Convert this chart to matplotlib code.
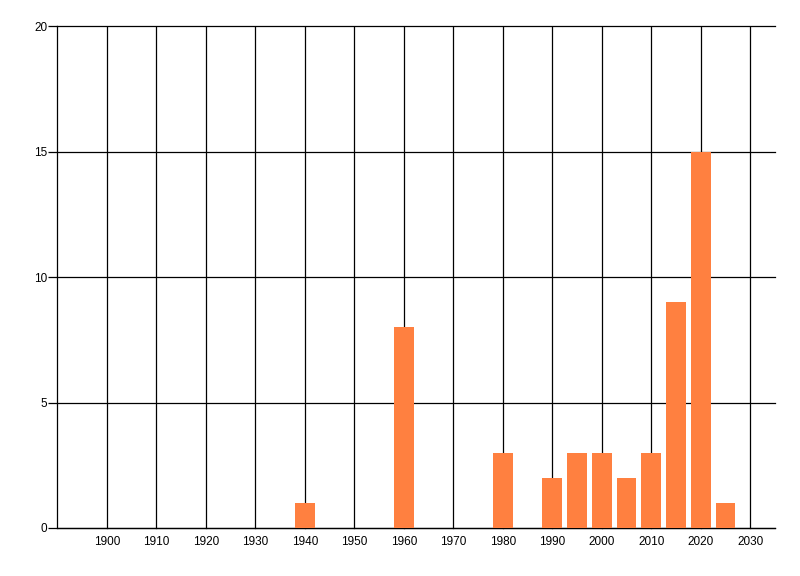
import matplotlib
matplotlib.use("Agg")
import matplotlib.pyplot as plt

years = [1940, 1960, 1980, 1990, 1995, 2000, 2005, 2010, 2015, 2020, 2025]
counts = [1, 8, 3, 2, 3, 3, 2, 3, 9, 15, 1]
x_ticks = list(range(1900, 2031, 10))
y_ticks = [0, 5, 10, 15, 20]

plt.rcParams['font.family'] = ['Liberation Sans', 'DejaVu Sans']

fig = plt.figure(figsize=(8, 5.76), dpi=100)
ax = fig.add_axes([57.5/800, (576-528)/576, (775-57.5)/800, (528-26.5)/576])

ax.bar(years, counts, width=4, color='#FF8040', zorder=3)

ax.set_xlim(1890, 2035)
ax.set_ylim(0, 20)
ax.set_xticks(x_ticks)
ax.set_xticklabels([str(t) for t in x_ticks])
ax.set_yticks(y_ticks)
ax.set_yticklabels([str(t) for t in y_ticks])

ax.grid(True, color='black', linewidth=0.9, zorder=0)
ax.set_axisbelow(True)
for line in ax.get_ygridlines() + ax.get_xgridlines():
    line.set_clip_on(False)
for s in ['top', 'right']:
    ax.spines[s].set_visible(False)
for s in ['left', 'bottom']:
    ax.spines[s].set_linewidth(0.9)
    ax.spines[s].set_color('black')

ax.tick_params(axis='x', length=0, pad=6, labelsize=8.5)
ax.tick_params(axis='y', length=6.5, width=0.9, pad=1, labelsize=8.5)

fig.savefig('out.png', dpi=100)
